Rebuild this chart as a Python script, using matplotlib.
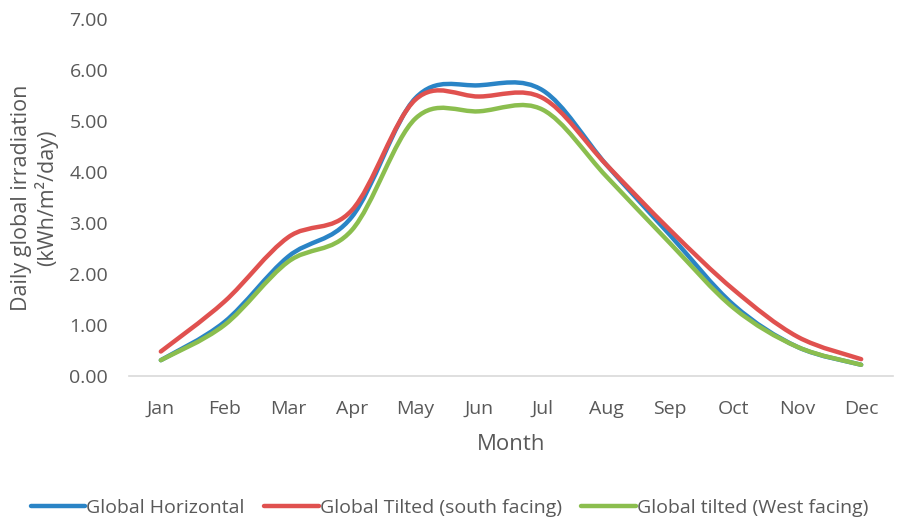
import matplotlib
matplotlib.use("Agg")
import matplotlib.pyplot as plt
from matplotlib.path import Path
from matplotlib.patches import PathPatch
from matplotlib.lines import Line2D
import numpy as np

plt.rcParams['font.family'] = ['Open Sans', 'DejaVu Sans']

months = ["Jan", "Feb", "Mar", "Apr", "May", "Jun", "Jul", "Aug", "Sep", "Oct", "Nov", "Dec"]
global_horizontal = [0.31, 1.06, 2.34, 3.12, 5.45, 5.70, 5.60, 4.14, 2.76, 1.39, 0.57, 0.22]
tilted_south = [0.48, 1.46, 2.72, 3.25, 5.42, 5.48, 5.45, 4.14, 2.86, 1.69, 0.77, 0.33]
tilted_west = [0.31, 1.00, 2.24, 2.86, 5.05, 5.19, 5.22, 3.91, 2.60, 1.33, 0.57, 0.22]

series = [
    ("Global Horizontal", global_horizontal, "#2A84C6"),
    ("Global Tilted (south facing)", tilted_south, "#E0514F"),
    ("Global tilted (West facing)", tilted_west, "#8BBE4E"),
]

text_color = "#595959"

fig = plt.figure(figsize=(8.99, 5.20), dpi=100)
ax = fig.add_axes([129/899, 1-376/520, (893-129)/899, (376-19)/520])


def smooth_path(xs, ys, k=1/6):
    xs = np.asarray(xs, float)
    ys = np.asarray(ys, float)
    n = len(xs)
    verts = [(xs[0], ys[0])]
    codes = [Path.MOVETO]
    for i in range(n - 1):
        p0 = (xs[max(i-1, 0)], ys[max(i-1, 0)])
        p1 = (xs[i], ys[i])
        p2 = (xs[i+1], ys[i+1])
        p3 = (xs[min(i+2, n-1)], ys[min(i+2, n-1)])
        c1 = (p1[0] + (p2[0]-p0[0])*k, p1[1] + (p2[1]-p0[1])*k)
        c2 = (p2[0] - (p3[0]-p1[0])*k, p2[1] - (p3[1]-p1[1])*k)
        verts += [c1, c2, p2]
        codes += [Path.CURVE4]*3
    return Path(verts, codes)


x = np.arange(len(months))
handles = []
for label, vals, color in series:
    patch = PathPatch(smooth_path(x, vals), facecolor='none', edgecolor=color,
                      lw=3.2, capstyle='round', joinstyle='round')
    ax.add_patch(patch)
    handles.append(Line2D([0], [0], color=color, lw=3.2, solid_capstyle='round', label=label))

ax.set_xlim(-0.5, 11.5)
ax.set_ylim(0, 7)
ax.set_xticks(x)
ax.set_xticklabels(months)
ax.set_yticks(np.arange(0, 8, 1))
ax.set_yticklabels([f"{v:.2f}" for v in np.arange(0, 8, 1)])
ax.tick_params(axis='both', length=0, labelsize=14, colors=text_color)
ax.tick_params(axis='x', pad=17)
ax.tick_params(axis='y', pad=15)

for s in ['top', 'right', 'left']:
    ax.spines[s].set_visible(False)
ax.spines['bottom'].set_color('#D9D9D9')
ax.spines['bottom'].set_linewidth(1.2)

ax.set_xlabel("Month", fontsize=16, color=text_color, labelpad=12)
ax.set_ylabel("Daily global irradiation\n(kWh/m\u00b2/day)", fontsize=15.5, color=text_color, labelpad=8,
              linespacing=1.1)

fig.legend(handles=handles, loc='center', bbox_to_anchor=(0.5, 1-508/520), ncol=3,
           frameon=False, fontsize=14, labelcolor=text_color, handlelength=2.8,
           handletextpad=0.05, columnspacing=1.0)

fig.savefig("out.png", dpi=100)
